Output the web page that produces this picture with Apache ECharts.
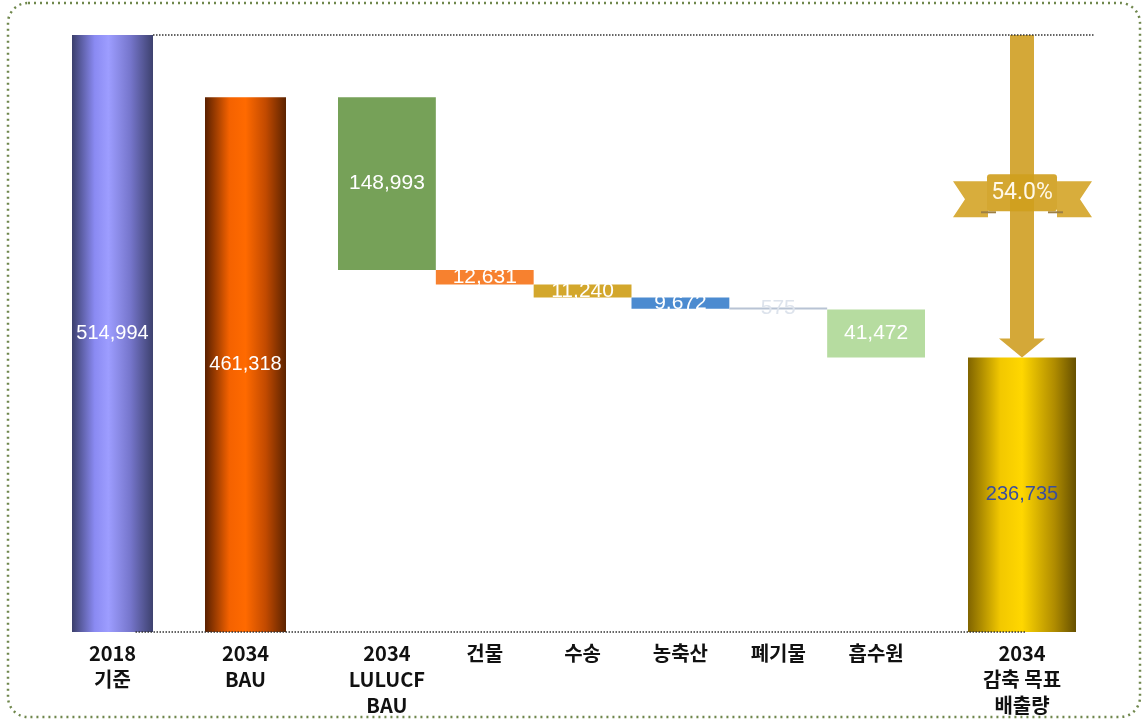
<!DOCTYPE html>
<html><head><meta charset="utf-8">
<script src="https://cdn.jsdelivr.net/npm/echarts@6/dist/echarts.min.js"></script>
<style>html,body{margin:0;padding:0;background:#fff}#c{width:1144px;height:721px}</style>
</head><body><div id="c"></div><script>
// ---- data ----
const totalCategories = ['2018\n기준', '2034\nBAU'];
const totalValues = [514994, 461318];
const stepCategories = ['2034\nLULUCF\nBAU', '건물', '수송', '농축산', '폐기물', '흡수원'];
const stepValues = [148993, 12631, 11240, 9672, 575, 41472];
const targetCategories = ['2034\n감축 목표\n배출량'];
const targetValues = [236735];

// ---- derived ----
let running = totalValues[1];
const stepBases = stepValues.map(v => (running -= v));
const yMax = Math.max(...totalValues);
const fmt = v => v.toLocaleString('en-US');
const pct = ((1 - targetValues[0] / totalValues[0]) * 100).toFixed(1) + '%';

const numFont = '"Liberation Sans", Arial, sans-serif';
const catFont = '"Noto Sans CJK KR", "Noto Sans", sans-serif';
const G = echarts.graphic.LinearGradient;
const totalGrads = [
  new G(0,0,1,0,[{offset:0,color:'#3b3f6c'},{offset:0.28,color:'#8a8af2'},{offset:0.45,color:'#9d9dff'},{offset:0.72,color:'#7676cc'},{offset:1,color:'#3d416e'}]),
  new G(0,0,1,0,[{offset:0,color:'#5a2000'},{offset:0.3,color:'#f46200'},{offset:0.5,color:'#ff6a00'},{offset:0.75,color:'#c24a00'},{offset:1,color:'#5c2300'}])
];
const targetGrad = new G(0,0,1,0,[{offset:0,color:'#806400'},{offset:0.3,color:'#f2c800'},{offset:0.5,color:'#ffd700'},{offset:0.8,color:'#b08c00'},{offset:1,color:'#665000'}]);
const stepColors = ['#76a158', '#f7812f', '#d3a72c', '#4c8bd0', '#b8c3d4', '#b6dca0'];
const stepLabelColors = ['#fff', '#fff', '#fff', '#fff', '#dde3ec', '#fff'];

const axisLabelStyle = {color:'#111', fontSize:20, fontWeight:'bold', fontFamily:catFont, lineHeight:26, margin:8, interval:0};
const grids = [
  {left:46, width:266, top:35, bottom:89},
  {left:338, width:587, top:35, bottom:89},
  {left:940, width:164, top:35, bottom:89}
];
const catAxes = [totalCategories, stepCategories, targetCategories].map((cats, i) => ({
  type:'category', gridIndex:i, data:cats,
  axisLine:{show:false}, axisTick:{show:false}, axisLabel:axisLabelStyle
}));
const valAxes = [0,1,2].map(i => ({type:'value', gridIndex:i, min:0, max:yMax, show:false}));

const chart = echarts.init(document.getElementById('c'), null, {renderer:'canvas'});
chart.setOption({
  animation:false,
  grid:grids, xAxis:catAxes, yAxis:valAxes,
  series:[
    {type:'bar', xAxisIndex:0, yAxisIndex:0, barWidth:81,
     data: totalValues.map((v,i)=>({value:v, itemStyle:{color:totalGrads[i]}})),
     label:{show:true, position:'inside', color:'#fff', fontSize:20, fontFamily:numFont, formatter:p=>fmt(p.value)}},
    {type:'bar', xAxisIndex:1, yAxisIndex:1, stack:'w', barWidth:'100%', silent:true,
     itemStyle:{color:'transparent'}, data: stepBases},
    {type:'bar', xAxisIndex:1, yAxisIndex:1, stack:'w', barWidth:'100%', barMinHeight:2,
     data: stepValues.map((v,i)=>({value:v, itemStyle:{color:stepColors[i]},
       label:{color:stepLabelColors[i]}})),
     label:{show:true, position:'inside', fontSize:21, fontFamily:numFont, formatter:p=>fmt(p.value)}},
    {type:'bar', xAxisIndex:2, yAxisIndex:2, barWidth:108,
     data: targetValues.map(v=>({value:v, itemStyle:{color:targetGrad}})),
     label:{show:true, position:'inside', color:'#3a4e9c', fontSize:20, fontFamily:numFont, formatter:p=>fmt(p.value)}},
    {type:'custom', xAxisIndex:2, yAxisIndex:2, z:10,
     data:[[0, totalValues[0], targetValues[0]]],
     renderItem:(params, api) => {
       const top = api.coord([api.value(0), api.value(1)]);
       const tip = api.coord([api.value(0), api.value(2)]);
       const cx = top[0], sw = 12, hw = 23, hh = 19;
       const my = (top[1] + tip[1]) / 2;
       const arrowCol = '#d4a838';
       return {type:'group', children:[
         {type:'polygon', shape:{points:[[cx-sw,top[1]],[cx+sw,top[1]],[cx+sw,tip[1]-hh],[cx+hw,tip[1]-hh],[cx,tip[1]],[cx-hw,tip[1]-hh],[cx-sw,tip[1]-hh]]},
          style:{fill:arrowCol}},
         // ribbon tails
         {type:'polygon', shape:{points:[[cx-69,my-15],[cx-34,my-15],[cx-34,my+21],[cx-69,my+21],[cx-57,my+3]]}, style:{fill:'#d8ad3c'}},
         {type:'polygon', shape:{points:[[cx+70,my-15],[cx+35,my-15],[cx+35,my+21],[cx+70,my+21],[cx+58,my+3]]}, style:{fill:'#d8ad3c'}},
         {type:'line', shape:{x1:cx-41,y1:my+16,x2:cx-26,y2:my+16}, style:{stroke:'#9c7f45', lineWidth:2}},
         {type:'line', shape:{x1:cx+26,y1:my+16,x2:cx+41,y2:my+16}, style:{stroke:'#9c7f45', lineWidth:2}},
         // ribbon centre panel
         {type:'rect', shape:{x:cx-35,y:my-22,width:70,height:37,r:3}, style:{fill:'#d4a731'}},
         {type:'rect', shape:{x:cx-sw,y:my-22,width:sw*2,height:37}, style:{fill:'rgba(200,150,0,0.35)'}},
         {type:'text', x:cx, y:my-3, style:{text:pct, fill:'#fff8e8', fontSize:23, fontFamily:'Roboto,"Liberation Sans",sans-serif', align:'center', verticalAlign:'middle'}}
       ]};
     }}
  ]
});

// reference lines through the library's scales
const yTop = chart.convertToPixel({yAxisIndex:0}, totalValues[0]);
const yBase = chart.convertToPixel({yAxisIndex:0}, 0);
const x0 = chart.convertToPixel({xAxisIndex:0}, totalCategories[0]);
const xT = chart.convertToPixel({xAxisIndex:2}, targetCategories[0]);
const dotted = {stroke:'#333', lineWidth:1.5, lineDash:[1.5,1.5]};
chart.setOption({graphic:[
  {type:'line', z:100, shape:{x1:x0+40.5, y1:yTop, x2:1095, y2:yTop}, style:dotted},
  {type:'line', z:100, shape:{x1:x0+23, y1:yBase, x2:xT+3, y2:yBase}, style:dotted},
  {type:'rect', z:100, shape:{x:8, y:3, width:1132, height:714, r:20},
   style:{fill:'none', stroke:'#6f874c', lineWidth:2.5, lineDash:[2,4]}}
]});
</script></body></html>
